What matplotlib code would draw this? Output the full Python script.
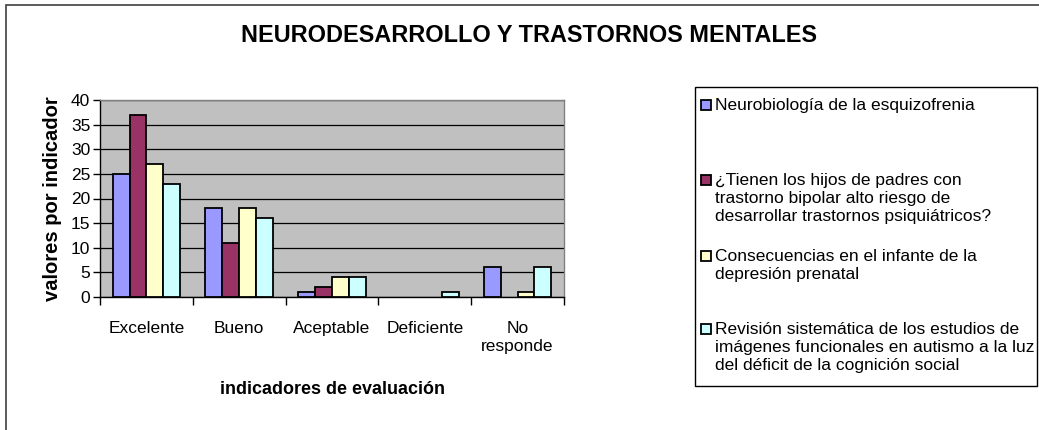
import numpy as np
import matplotlib.pyplot as plt
from matplotlib.patches import Rectangle

plt.rcParams['font.family'] = ['Liberation Sans', 'DejaVu Sans']

# -------------------------- Data --------------------------
categories = ["Excelente", "Bueno", "Aceptable", "Deficiente", "No\nresponde"]
series_names = [
    "Neurobiología de la esquizofrenia",
    "¿Tienen los hijos de padres con\ntrastorno bipolar alto riesgo de\ndesarrollar trastornos psiquiátricos?",
    "Consecuencias en el infante de la\ndepresión prenatal",
    "Revisión sistemática de los estudios de\nimágenes funcionales en autismo a la luz\ndel déficit de la cognición social",
]
neurobiologia = [25, 18, 1, 0, 6]
hijos_bipolar = [37, 11, 2, 0, 0]
depresion_prenatal = [27, 18, 4, 0, 1]
autismo = [23, 16, 4, 1, 6]
series_values = [neurobiologia, hijos_bipolar, depresion_prenatal, autismo]
y_ticks = [0, 5, 10, 15, 20, 25, 30, 35, 40]

colors = ["#9999FF", "#993366", "#FFFFCC", "#CCFFFF"]

# -------------------------- Figure --------------------------
W, H = 1039, 430
fig = plt.figure(figsize=(W / 100, H / 100), dpi=100)

# outer chart border (cropped on right / bottom like the original)
fig.patches.append(Rectangle((6 / W, -0.2), 1.2, 1 - 5 / H + 0.2, transform=fig.transFigure,
                             fill=False, edgecolor="#404040", linewidth=1.2))

ax = fig.add_axes([100 / W, (H - 297) / H, 464 / W, 197 / H])
ax.set_facecolor("#C0C0C0")

n_series = len(series_values)
bar_w = 1 / 5.5  # Excel gap width 150%
x = np.arange(len(categories))
for i, (vals, col) in enumerate(zip(series_values, colors)):
    offs = (i - (n_series - 1) / 2) * bar_w
    bars = ax.bar(x + offs, vals, width=bar_w, color=col, edgecolor="black", linewidth=1.3, zorder=3)
    for b, v in zip(bars, vals):
        if v == 0:
            b.set_visible(False)  # Excel draws nothing for empty values

ax.set_xlim(-0.5, len(categories) - 0.5)
ax.set_ylim(0, 40)
ax.set_yticks(y_ticks)
ax.yaxis.grid(True, color="black", linewidth=0.9, zorder=1)
ax.set_axisbelow(True)

# category boundary ticks, labels centred between them
ax.set_xticks(np.arange(len(categories) + 1) - 0.5)
ax.set_xticklabels([])
ax.set_xticks(x, minor=True)
ax.set_xticklabels(categories, minor=True, fontsize=12.5, linespacing=1.25)
ax.tick_params(axis="x", which="minor", length=0, pad=17)
ax.tick_params(axis="x", which="major", length=6, width=1, color="black")
ax.tick_params(axis="y", length=5, width=1, pad=2, labelsize=12.5)

for side in ["top", "right"]:
    ax.spines[side].set_color("#808080")
    ax.spines[side].set_linewidth(1)
for side in ["left", "bottom"]:
    ax.spines[side].set_color("black")
    ax.spines[side].set_linewidth(1)

ax.set_xlabel("indicadores de evaluación", fontsize=12.9, fontweight="bold", labelpad=20)
ax.set_ylabel("valores por indicador", fontsize=14.5, fontweight="bold", labelpad=6)

fig.text(529 / W, 1 - 35 / H, "NEURODESARROLLO Y TRASTORNOS MENTALES",
         ha="center", va="center", fontsize=16.9, fontweight="bold")

# -------------------------- Legend box (Excel style) --------------------------
lx0, ly0, lx1, ly1 = 695, 87, 1037, 386
fig.patches.append(Rectangle((lx0 / W, 1 - ly1 / H), (lx1 - lx0) / W, (ly1 - ly0) / H,
                             transform=fig.transFigure, fill=True, facecolor="white",
                             edgecolor="black", linewidth=1))
entry_centres = [105, 180, 256, 329]
for name, col, yc in zip(series_names, colors, entry_centres):
    fig.patches.append(Rectangle((701 / W, 1 - (yc + 5) / H), 10 / W, 10 / H,
                                 transform=fig.transFigure, facecolor=col,
                                 edgecolor="black", linewidth=1.3))
    fig.text(715 / W, 1 - (yc - 7) / H, name, ha="left", va="top",
             fontsize=12.5, linespacing=1.27)

fig.savefig("out.png", dpi=100)
